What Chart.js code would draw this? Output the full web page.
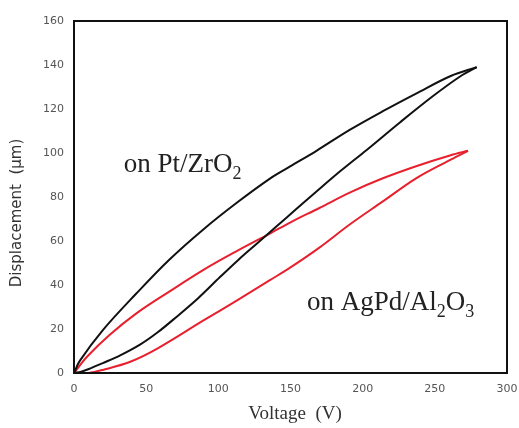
<!DOCTYPE html>
<html>
<head>
<meta charset="utf-8">
<script src="https://cdn.jsdelivr.net/npm/chart.js@4"></script>
<style>
  body { margin: 0; background: #fff; }
  #wrap { width: 519px; height: 428px; position: relative; }
</style>
</head>
<body>
<div id="wrap"><canvas id="myChart"></canvas></div>
<script>
// Pt/ZrO2 loop (black)
const ptRiseV = [0, 5, 11, 20, 32, 46, 58, 71, 86, 101, 114, 127, 140, 154, 168, 185, 203, 226, 249, 268, 279];
const ptRiseD = [0, 0.6, 2, 4.5, 8, 13, 18.5, 25.5, 34, 43.5, 51.5, 59, 66.5, 74.5, 82.5, 92, 101.5, 114, 126, 135, 139];
const ptFallV = [279, 261, 237, 214, 191, 168, 150, 136, 113, 90, 66, 43, 20, 4, 0];
const ptFallD = [139, 135, 127, 119, 110.5, 101, 94, 88.5, 77.5, 65.5, 51.5, 36, 19.5, 5.5, 0];

// AgPd/Al2O3 loop (red)
const agRiseV = [0, 10, 20, 39, 58, 90, 113, 136, 150, 170, 191, 214, 237, 261, 273];
const agRiseD = [0, 0, 1.4, 5.1, 11.2, 24, 33, 42.3, 48, 57, 67.5, 78, 88.5, 97, 101];
const agFallV = [273, 261, 237, 214, 191, 170, 150, 136, 113, 90, 66, 43, 25, 9, 0];
const agFallD = [101, 99, 94, 88.5, 82, 75, 68.5, 63.5, 55.5, 47, 37, 27, 17.5, 7.4, 0];

const xTicks = [0, 50, 100, 150, 200, 250, 300];
const yTicks = [0, 20, 40, 60, 80, 100, 120, 140, 160];

const black = '#111111';
const red = '#e8202e';

const toPoints = (xs, ys) => xs.map((x, i) => ({ x, y: ys[i] }));

const line = (xs, ys, color) => ({
  data: toPoints(xs, ys),
  showLine: true,
  borderColor: color,
  borderWidth: 2,
  pointRadius: 0,
  fill: false,
  tension: 0.35
});

// subscripted labels drawn in data coordinates
const notes = [
  { v: 34.5, d: 91.5, parts: [['on Pt/ZrO', 0], ['2', 1]] },
  { v: 161.5, d: 28.5, parts: [['on AgPd/Al', 0], ['2', 1], ['O', 0], ['3', 1]] }
];

const framePlugin = {
  id: 'frame',
  afterDraw(chart) {
    const { ctx, chartArea: a, scales } = chart;
    ctx.save();
    ctx.strokeStyle = '#111';
    ctx.lineWidth = 2;
    ctx.strokeRect(a.left, a.top, a.right - a.left, a.bottom - a.top);

    ctx.fillStyle = '#222';
    ctx.textBaseline = 'alphabetic';
    ctx.textAlign = 'left';
    notes.forEach(n => {
      let x = scales.x.getPixelForValue(n.v);
      const y = scales.y.getPixelForValue(n.d);
      n.parts.forEach(([t, sub]) => {
        ctx.font = sub ? '18px "Liberation Serif"' : '27px "Liberation Serif"';
        ctx.fillText(t, x, sub ? y + 7 : y);
        x += ctx.measureText(t).width;
      });
    });

    // axis titles
    ctx.fillStyle = '#333';
    ctx.textAlign = 'center';
    ctx.textBaseline = 'middle';
    ctx.font = '19px "Liberation Serif"';
    ctx.fillText('Voltage  (V)', 295, 414);
    ctx.translate(17, 213);
    ctx.rotate(-Math.PI / 2);
    ctx.font = '15px "DejaVu Sans"';
    ctx.fillText('Displacement  (\u03bcm)', 0, 0);
    ctx.restore();
  }
};

new Chart(document.getElementById('myChart'), {
  type: 'scatter',
  data: {
    datasets: [
      line(ptRiseV, ptRiseD, black),
      line(ptFallV, ptFallD, black),
      line(agRiseV, agRiseD, red),
      line(agFallV, agFallD, red)
    ]
  },
  options: {
    responsive: true,
    maintainAspectRatio: false,
    animation: false,
    layout: { padding: { top: 21, right: 12, left: 0, bottom: 0 } },
    plugins: {
      legend: { display: false },
      tooltip: { enabled: false }
    },
    scales: {
      x: {
        type: 'linear',
        min: 0,
        max: 300,
        afterBuildTicks: s => { s.ticks = xTicks.map(value => ({ value })); },
        afterFit: s => { s.height = 55; s.paddingLeft = 0; s.paddingRight = 0; },
        grid: { display: false, drawTicks: true, tickLength: 4, tickColor: '#333' },
        border: { display: true, color: '#111', width: 2 },
        ticks: { color: '#555', font: { family: 'DejaVu Sans', size: 11 }, padding: 6, maxRotation: 0 }
      },
      y: {
        type: 'linear',
        min: 0,
        max: 160,
        afterBuildTicks: s => { s.ticks = yTicks.map(value => ({ value })); },
        afterFit: s => { s.width = 74; s.paddingTop = 0; s.paddingBottom = 0; },
        grid: { display: false, drawTicks: true, tickLength: 6, tickColor: '#333' },
        border: { display: true, color: '#111', width: 2 },
        ticks: { color: '#555', font: { family: 'DejaVu Sans', size: 11 }, padding: 4 }
      }
    }
  },
  plugins: [framePlugin]
});
</script>
</body>
</html>
